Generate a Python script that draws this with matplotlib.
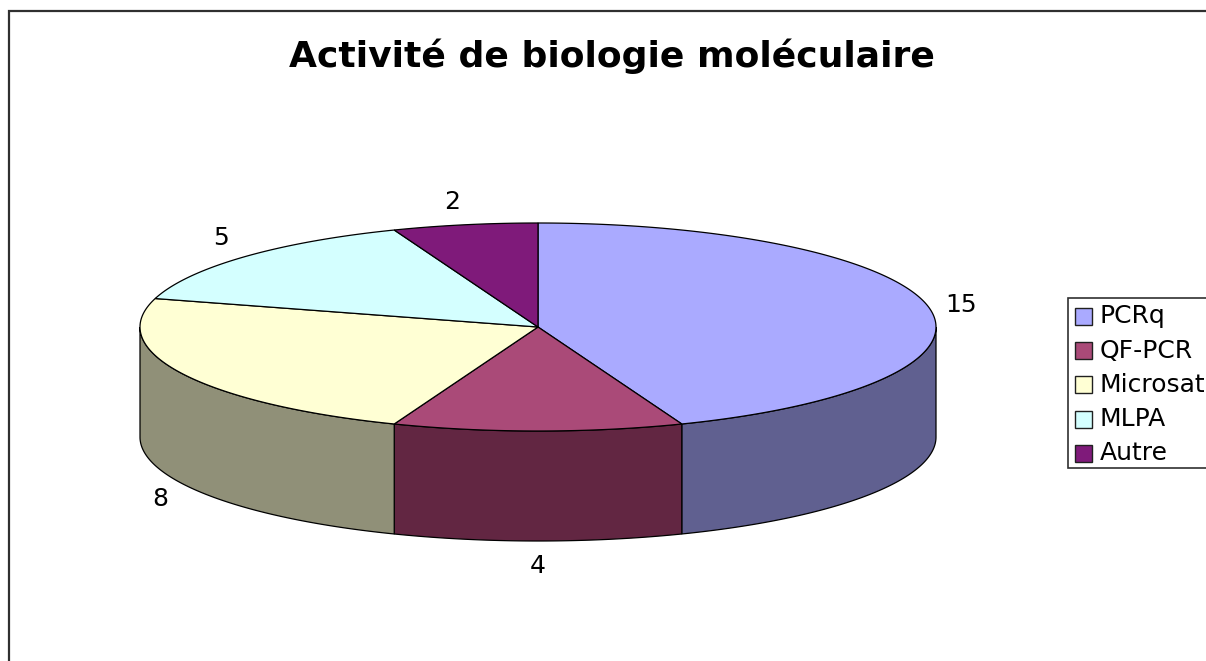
import numpy as np
import matplotlib
matplotlib.use('Agg')
import matplotlib.pyplot as plt
from matplotlib.patches import Polygon, Rectangle

title = 'Activité de biologie moléculaire'
labels = ['PCRq', 'QF-PCR', 'Microsat', 'MLPA', 'Autre']
values = [15, 4, 8, 5, 2]
top_colors = ['#AAAAFF', '#AA4A78', '#FFFFD4', '#D4FFFF', '#7F1A7A']
side_colors = ['#606090', '#622642', '#909078', '#788F8F', '#480F45']

# pie geometry in pixels
cx, cy = 538, 327
rx, ry = 398, 104
depth = 110

fig = plt.figure(figsize=(12.06, 6.61), dpi=100)
ax = fig.add_axes([0, 0, 1, 1])
ax.set_xlim(0, 1206)
ax.set_ylim(661, 0)
ax.axis('off')


def rim(a, b, dy=0):
    # a, b in degrees clockwise from 12 o'clock
    t = np.radians(np.linspace(a, b, max(int(abs(b - a)) * 2, 2)))
    return np.column_stack([cx + rx * np.sin(t), cy - ry * np.cos(t) + dy])


# outer chart border, runs off the right and bottom of the picture
ax.add_patch(Rectangle((9, 10.5), 1300, 800, fc='white', ec='#303030', lw=1.6))

angles = np.cumsum([0] + values) / sum(values) * 360

# sides first, only the front half of the rim shows
for i in range(len(values)):
    a = max(angles[i], 90)
    b = min(angles[i + 1], 270)
    if b > a:
        front = rim(a, b)
        back = rim(b, a, depth)
        ax.add_patch(Polygon(np.vstack([front, back]), fc=side_colors[i], ec='black', lw=0.9))

# top face
for i in range(len(values)):
    pts = np.vstack([[cx, cy], rim(angles[i], angles[i + 1])])
    ax.add_patch(Polygon(pts, fc=top_colors[i], ec='black', lw=0.9))

ax.text(612, 56, title, fontsize=26, fontweight='bold', ha='center', va='center', color='black')

# value labels
label_pos = [(961, 305), (538, 566), (160, 499), (221, 238), (452, 202)]
for v, (x, y) in zip(values, label_pos):
    ax.text(x, y, str(v), fontsize=18, ha='center', va='center', color='black')

# legend, clipped by the picture edge
ax.add_patch(Rectangle((1067.5, 297.5), 200, 170, fc='white', ec='#303030', lw=1.2))
for i, name in enumerate(labels):
    y = 316.5 + i * 34.2
    ax.add_patch(Rectangle((1074.5, y - 8.5), 17, 17, fc=top_colors[i], ec='#202020', lw=1))
    ax.text(1100, y, name, fontsize=18, ha='left', va='center', color='black')

fig.savefig('out.png', dpi=100)
